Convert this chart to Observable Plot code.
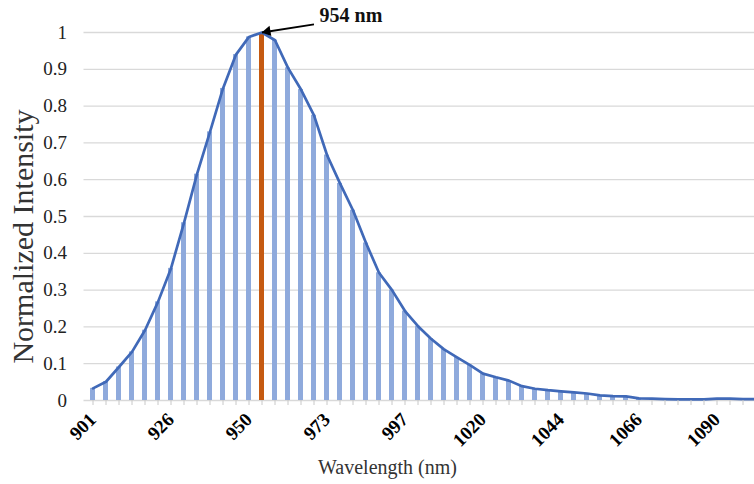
<!DOCTYPE html>
<html>
<head>
<meta charset="utf-8">
<script src="https://cdn.jsdelivr.net/npm/d3@7"></script>
<script src="https://cdn.jsdelivr.net/npm/@observablehq/plot@0.6"></script>
<style>
  html, body { margin: 0; padding: 0; background: #fff; overflow: hidden; width: 754px; height: 484px; }
  #chart { position: absolute; left: 0; top: 0; }
</style>
</head>
<body>
<div id="chart"></div>
<script>
// Wavelength categories (nm), estimated between the labelled ticks
const wavelengths = [901, 905, 909, 913, 918, 922, 926, 930, 934, 938, 942, 946, 950, 954, 958, 962, 965, 969,
  973, 977, 981, 985, 989, 993, 997, 1001, 1005, 1008, 1012, 1016, 1020, 1024, 1028, 1032, 1036, 1040,
  1044, 1048, 1051, 1055, 1059, 1062, 1066, 1070, 1074, 1078, 1082, 1086, 1090, 1094, 1098, 1101];
// Normalized intensity
const intensity = [0.033, 0.051, 0.091, 0.132, 0.191, 0.268, 0.359, 0.483, 0.615, 0.730, 0.848, 0.940, 0.988, 1.000,
  0.979, 0.904, 0.845, 0.775, 0.667, 0.590, 0.517, 0.428, 0.347, 0.300, 0.243, 0.202, 0.168, 0.139, 0.117,
  0.096, 0.073, 0.063, 0.054, 0.039, 0.032, 0.028, 0.025, 0.022, 0.019, 0.014, 0.012, 0.011, 0.006, 0.005,
  0.004, 0.003, 0.003, 0.003, 0.005, 0.005, 0.004, 0.004];
const xTickLabels = [901, 926, 950, 973, 997, 1020, 1044, 1066, 1090];
const yTicks = [0, 0.1, 0.2, 0.3, 0.4, 0.5, 0.6, 0.7, 0.8, 0.9, 1];
const xTitle = "Wavelength (nm)";
const yTitle = "Normalized Intensity";

const data = wavelengths.map((w, i) => ({w, v: intensity[i]}));
const peakIndex = d3.maxIndex(data, d => d.v);
const peak = data[peakIndex];
const arrowTail = {x: wavelengths[peakIndex + 4], y: peak.v + 0.022};

const font = "'Liberation Serif', 'Times New Roman', serif";

const chart = Plot.plot({
  width: 765,
  height: 484,
  marginLeft: 83.5,
  marginRight: 0,
  marginTop: 32,
  marginBottom: 84,
  style: {fontFamily: font, background: "#fff", overflow: "visible", maxWidth: "none"},
  x: {type: "band", domain: wavelengths, paddingInner: 0.6, paddingOuter: 0.3, axis: null},
  y: {domain: [0, 1], axis: null},
  marks: [
    Plot.ruleY(yTicks, {stroke: "#d9d9d9", strokeWidth: 1.3}),
    Plot.barY(data, {x: "w", y: "v", fill: d => d.w === peak.w ? "#C55A11" : "#8FAADC"}),
    Plot.line(data, {x: "w", y: "v", stroke: "#4069B8", strokeWidth: 2.7, curve: "linear"}),
    Plot.axisX({tickSize: 5, tickFormat: () => "", stroke: "#c8c8c8", label: null}),
    Plot.axisX(xTickLabels, {tickSize: 0, tickRotate: -45, tickPadding: 16, fontSize: 19, fill: "#000", fontWeight: "bold", label: null, tickFormat: d => String(d)}),
    Plot.axisY(yTicks, {tickSize: 0, tickPadding: 17, fontSize: 19, fill: "#222", label: null, tickFormat: d => String(Math.round(d * 10) / 10)}),
    Plot.text([yTitle], {frameAnchor: "left", textAnchor: "middle", rotate: -90, dx: -61, dy: 20, fontSize: 30, fill: "#333"}),
    Plot.text([xTitle], {frameAnchor: "bottom-left", textAnchor: "middle", dx: 303.5, dy: 73, fontSize: 20, fill: "#333"}),
    Plot.link([peak], {x1: () => arrowTail.x, y1: () => arrowTail.y, x2: "w", y2: "v", stroke: "#000", strokeWidth: 1.8}),
    Plot.dot([peak], {x: "w", y: "v", symbol: "triangle", r: 3.8, rotate: -100, fill: "#000", stroke: "none", dx: 5.5, dy: -1.1}),
    Plot.text([peak], {x: "w", y: "v", text: d => `${d.w} nm`, dx: 89, dy: -17, fontSize: 20, fontWeight: "bold", fill: "#111"})
  ]
});
document.getElementById("chart").appendChild(chart);
</script>
</body>
</html>
